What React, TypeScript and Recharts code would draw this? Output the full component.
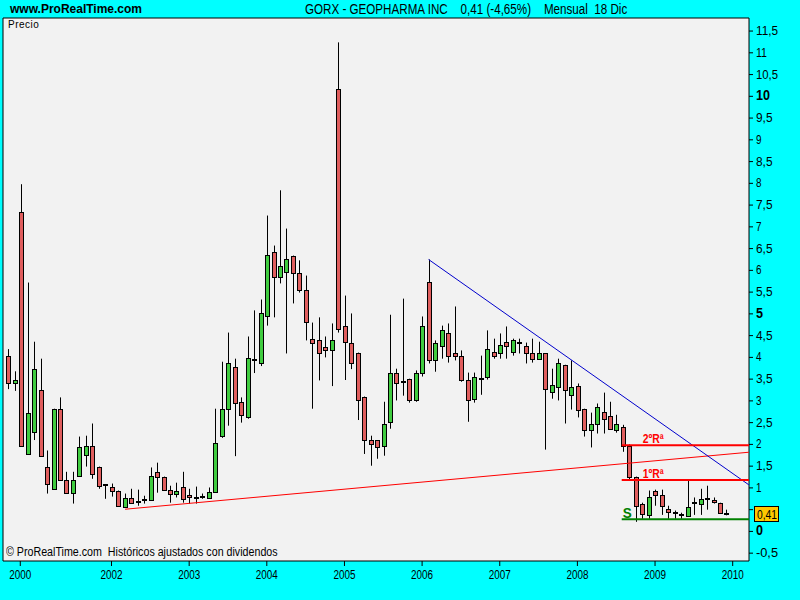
import React from 'react'
import { ComposedChart, XAxis, YAxis, Bar, ReferenceLine, ReferenceArea } from 'recharts'

const SANS = '"Liberation Sans", Arial, sans-serif'
const UP = '#40CC40'
const DOWN = '#E05E5E'

// monthly candles, Sep 2000 .. Dec 2009
const opens = [
  4.04, 3.42, 7.35, 1.79, 2.29, 3.26, 1.49, 0.98, 2.82, 1.19, 0.89, 1.28, 1.76, 1.97, 1.47, 1.07,
  1.03, 0.94, 0.57, 0.77, 0.68, 0.73, 0.73, 1.37, 1.26, 0.96, 0.87, 1.01, 0.84, 0.77, 0.77, 0.77,
  0.91, 2.2, 2.82, 3.79, 2.98, 2.64, 3.94, 3.87, 4.96, 6.43, 5.84, 5.97, 6.34, 5.95, 5.54, 4.43,
  4.41, 4.23, 4.18, 10.16, 4.73, 4.32, 4.11, 3.1, 2.09, 2.09, 1.97, 2.52, 3.63, 3.43, 3.51, 3.01,
  3.65, 5.74, 3.93, 4.27, 4.55, 4.09, 4.04, 3.49, 3.05, 3.49, 3.54, 4.13, 4.11, 4.36, 4.13, 4.34,
  4.27, 4.09, 3.97, 4.09, 3.21, 3.33, 3.83, 3.14, 3.35, 2.82, 2.34, 2.48, 2.75, 2.66, 2.34, 2.41,
  1.97, 1.24, 0.64, 0.38, 0.94, 0.84, 0.52, 0.43, 0.38, 0.36, 0.66, 0.64, 0.75, 0.73, 0.66, 0.38,
]
const highs = [
  4.19, 3.68, 7.98, 5.72, 4.36, 3.97, 1.86, 2.82, 3.08, 1.37, 1.37, 2.18, 2.2, 2.48, 1.49, 1.08,
  1.1, 0.94, 0.87, 0.98, 0.96, 0.82, 1.47, 1.58, 1.26, 1.05, 1.12, 1.37, 0.98, 1.03, 0.87, 1.01,
  2.82, 3.9, 4.57, 3.97, 3.08, 4.48, 5.08, 5.33, 7.26, 6.57, 7.84, 6.96, 6.34, 6.23, 5.88, 4.8,
  4.92, 4.48, 4.78, 11.24, 5.42, 5.01, 4.11, 3.1, 2.2, 2.09, 2.98, 4.98, 3.74, 5.35, 3.51, 3.7,
  4.94, 6.25, 4.39, 4.73, 4.78, 5.17, 4.16, 3.65, 3.65, 4.04, 4.62, 4.43, 4.55, 4.71, 4.43, 4.43,
  4.34, 4.43, 4.36, 4.09, 3.74, 3.97, 3.83, 3.93, 3.4, 2.82, 2.73, 2.94, 3.19, 2.98, 2.68, 2.45,
  2.0, 1.26, 0.66, 0.94, 0.96, 0.96, 0.59, 0.48, 0.43, 1.17, 0.78, 0.98, 1.05, 0.78, 0.66, 0.5,
]
const lows = [
  3.27, 3.23, 1.95, 1.79, 2.1, 1.74, 0.87, 0.98, 1.19, 0.89, 0.64, 1.28, 1.49, 1.21, 0.98, 0.75,
  0.8, 0.59, 0.55, 0.64, 0.59, 0.64, 0.73, 0.89, 0.96, 0.66, 0.78, 0.66, 0.64, 0.64, 0.75, 0.77,
  0.91, 2.15, 2.43, 1.73, 2.5, 2.59, 3.64, 3.8, 4.73, 4.92, 5.7, 4.09, 5.24, 5.49, 4.39, 2.82,
  3.47, 4.0, 3.34, 4.57, 3.48, 3.73, 2.56, 1.78, 1.51, 1.67, 1.74, 2.36, 3.01, 3.12, 2.96, 2.98,
  3.56, 3.86, 3.67, 3.97, 3.88, 3.93, 3.44, 2.52, 2.96, 3.14, 3.49, 3.97, 3.97, 3.97, 4.04, 4.09,
  3.86, 3.88, 3.97, 1.88, 3.05, 3.01, 2.48, 2.8, 2.62, 2.18, 1.93, 2.25, 2.25, 2.36, 2.27, 1.83,
  1.2, 0.22, 0.29, 0.29, 0.59, 0.38, 0.29, 0.29, 0.29, 0.34, 0.38, 0.38, 0.5, 0.64, 0.41, 0.37,
]
const closes = [
  3.42, 3.49, 1.97, 2.73, 3.74, 1.74, 1.1, 2.82, 1.19, 0.89, 1.19, 1.93, 1.97, 1.33, 1.05, 1.06,
  0.94, 0.59, 0.77, 0.66, 0.66, 0.73, 1.28, 1.24, 0.96, 0.87, 0.94, 0.75, 0.8, 0.76, 0.79, 0.91,
  2.04, 2.82, 3.86, 2.96, 2.68, 3.99, 3.95, 5.03, 6.36, 5.84, 6.09, 6.27, 5.95, 5.54, 4.82, 4.34,
  4.11, 4.18, 4.41, 4.66, 4.36, 3.88, 3.03, 2.09, 2.02, 1.93, 2.48, 3.65, 3.42, 3.42, 3.03, 3.65,
  4.73, 3.93, 4.32, 4.62, 4.04, 4.04, 3.49, 3.03, 3.56, 3.5, 4.2, 4.04, 4.29, 4.25, 4.39, 4.34,
  4.11, 3.97, 4.09, 3.28, 3.37, 3.88, 3.24, 3.33, 2.78, 2.34, 2.48, 2.87, 2.59, 2.36, 2.48, 1.97,
  1.26, 0.59, 0.41, 0.78, 0.84, 0.59, 0.45, 0.42, 0.38, 0.57, 0.66, 0.75, 0.74, 0.68, 0.43, 0.41,
]

const yearTicks = [1.9, 16, 28, 40, 52, 64, 76, 88, 100, 112]
const yearLabels = ['2000', '2002', '2003', '2004', '2005', '2006', '2007', '2008', '2009', '2010']
const priceTicks = [
  -0.5, 0, 0.5, 1, 1.5, 2, 2.5, 3, 3.5, 4, 4.5, 5, 5.5, 6, 6.5, 7, 7.5, 8, 8.5, 9, 9.5, 10,
  10.5, 11, 11.5,
]
const boldTicks = [0, 5, 10]

// drawn lines: [month index, price]
const supportLine = [[18.1, 0.51], [114.5, 1.82]]
const downtrendLine = [[65, 6.25], [114.5, 1.07]]
const levelNames = ['2ºRª', '1ºRª', 'S']
const levelValues = [1.98, 1.18, 0.28]
const levelColors = ['#FF0000', '#FF0000', '#008000']
const levelStart = 94.85
const lastPrice = 0.41

const X_DOMAIN = [-0.77, 114.52]
const Y_DOMAIN = [-0.68, 11.8]

const data = opens.map((o, i) => ({
  i,
  open: o,
  high: highs[i],
  low: lows[i],
  close: closes[i],
}))

const fmt = (v: number) => String(v).replace('.', ',')

const Candle = (props: any) => {
  const { x, y, width, height, payload } = props
  if (x == null || y == null) return null
  const { open, close, high, low } = payload
  const top = Math.min(y, y + height)
  const h = Math.abs(height)
  const ppu = high > low ? h / (high - low) : 0
  const c = Math.round(x + width / 2)
  const yOf = (v: number) => top + (high - v) * ppu
  const bTop = Math.round(yOf(Math.max(open, close)))
  const bBot = Math.round(yOf(Math.min(open, close)))
  return (
    <g>
      <line x1={c + 0.5} x2={c + 0.5} y1={top} y2={top + h} stroke="#000" strokeWidth={1} />
      {bBot - bTop < 2 ? (
        <rect x={c - 2} y={bTop - 1} width={5} height={2} fill="#000" />
      ) : (
        <rect
          x={c - 1.5}
          y={bTop + 0.5}
          width={4}
          height={bBot - bTop}
          fill={close >= open ? UP : DOWN}
          stroke="#000"
          strokeWidth={1}
        />
      )}
    </g>
  )
}

const PriceTick = (props: any) => {
  const { x, y, payload } = props
  const v = payload.value
  // the last price box hides the label next to it
  if (Math.abs(v - lastPrice) < 0.2) return null
  const bold = boldTicks.includes(v)
  const s = fmt(v)
  return (
    <text
      x={x}
      y={y}
      dy={4}
      textAnchor="start"
      fill="#000"
      fontFamily={SANS}
      fontSize={bold ? 14 : 12}
      fontWeight={bold ? 'bold' : 'normal'}
      textLength={s.length * (bold ? 7 : 5.5)}
      lengthAdjust="spacingAndGlyphs"
    >
      {s}
    </text>
  )
}

const YearTick = (props: any) => {
  const { x, y, payload } = props
  const label = yearLabels[yearTicks.indexOf(payload.value)] ?? ''
  return (
    <text
      x={x}
      y={y}
      dy={10}
      textAnchor="middle"
      fill="#000"
      fontFamily={SANS}
      fontSize={12}
      textLength={22}
      lengthAdjust="spacingAndGlyphs"
    >
      {label}
    </text>
  )
}

const levelLabel = (name: string, color: string) => (p: any) => {
  const vb = p.viewBox
  const isS = name === 'S'
  return (
    <text
      x={vb.x + (isS ? 1 : 21)}
      y={vb.y - (isS ? 1 : 2)}
      fill={color}
      fontFamily={SANS}
      fontWeight="bold"
      fontSize={isS ? 15 : 13}
      textLength={isS ? 9 : 21}
      lengthAdjust="spacingAndGlyphs"
    >
      {name}
    </text>
  )
}

const priceBox = (p: any) => {
  const vb = p.viewBox
  const bx = vb.x + vb.width + 5
  const cy = Math.round(vb.y)
  return (
    <g>
      <rect x={bx + 0.5} y={cy - 7.5} width={24} height={15} fill="#FFC800" stroke="#000" />
      <text
        x={bx + 3}
        y={cy + 5}
        fontFamily={SANS}
        fontSize={12}
        fill="#000"
        textLength={20}
        lengthAdjust="spacingAndGlyphs"
      >
        {fmt(lastPrice)}
      </text>
    </g>
  )
}

export default function App() {
  return (
    <div
      style={{
        position: 'fixed',
        left: 0,
        top: 0,
        width: 800,
        height: 600,
        background: '#00FFFF',
        fontFamily: SANS,
      }}
    >
      <div style={{ position: 'absolute', left: 10, top: 2, fontWeight: 'bold', fontSize: 12 }}>
        www.ProRealTime.com
      </div>
      <div
        style={{
          position: 'absolute',
          left: 305,
          top: 1,
          fontSize: 14,
          whiteSpace: 'pre',
          transform: 'scaleX(0.83)',
          transformOrigin: 'left top',
        }}
      >
        {'GORX - GEOPHARMA INC    0,41 (-4,65%)    Mensual  18 Dic'}
      </div>
      <ComposedChart
        width={800}
        height={600}
        data={data}
        margin={{ top: 18, left: 3, right: 0, bottom: 0 }}
      >
        <ReferenceArea
          x1={X_DOMAIN[0]}
          x2={X_DOMAIN[1]}
          y1={Y_DOMAIN[0]}
          y2={Y_DOMAIN[1]}
          fill="#F2F2F2"
          fillOpacity={1}
          stroke="#000"
          strokeWidth={1}
        />
        <XAxis
          dataKey="i"
          type="number"
          domain={X_DOMAIN}
          ticks={yearTicks}
          interval={0}
          allowDataOverflow
          height={39}
          axisLine={false}
          tickSize={5}
          tickMargin={3}
          tickLine={{ stroke: '#000' }}
          tick={<YearTick />}
        />
        <YAxis
          orientation="right"
          type="number"
          domain={Y_DOMAIN}
          ticks={priceTicks}
          interval={0}
          allowDataOverflow
          width={51}
          axisLine={false}
          tickSize={4}
          tickMargin={3}
          tickLine={{ stroke: '#000' }}
          tick={<PriceTick />}
        />
        <Bar
          dataKey={(d: any) => [d.low, d.high]}
          barSize={5}
          shape={<Candle />}
          isAnimationActive={false}
        />
        <ReferenceLine
          segment={supportLine.map(([x, y]) => ({ x, y }))}
          stroke="#FF0000"
          strokeWidth={1}
        />
        <ReferenceLine
          segment={downtrendLine.map(([x, y]) => ({ x, y }))}
          stroke="#0000CC"
          strokeWidth={1}
        />
        {levelValues.map((v, k) => (
          <ReferenceLine
            key={levelNames[k]}
            segment={[{ x: levelStart, y: v }, { x: X_DOMAIN[1], y: v }]}
            stroke={levelColors[k]}
            strokeWidth={2}
            label={levelLabel(levelNames[k], levelColors[k])}
          />
        ))}
        <ReferenceLine y={lastPrice} stroke="none" label={priceBox} />
      </ComposedChart>
      <div style={{ position: 'absolute', left: 8, top: 19, fontSize: 10, letterSpacing: 0.5 }}>
        Precio
      </div>
      <div
        style={{
          position: 'absolute',
          left: 6,
          top: 545,
          fontSize: 12,
          whiteSpace: 'pre',
          transform: 'scaleX(0.89)',
          transformOrigin: 'left top',
        }}
      >
        {'© ProRealTime.com  Históricos ajustados con dividendos'}
      </div>
    </div>
  )
}
